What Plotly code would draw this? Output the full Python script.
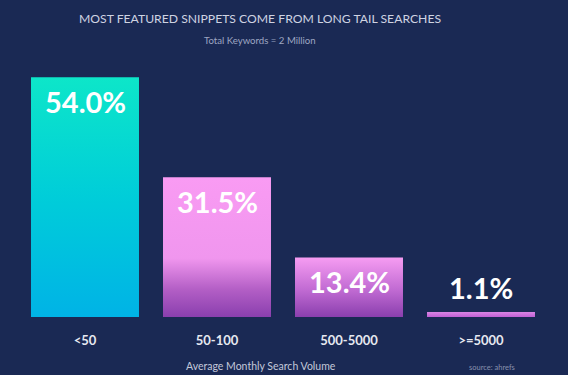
import plotly.graph_objects as go

# ---- data ----
categories = ["<50", "50-100", "500-5000", ">=5000"]
shares = [54.0, 31.5, 13.4, 1.1]
value_labels = ["54.0%", "31.5%", "13.4%", "1.1%"]
title_text = "MOST FEATURED SNIPPETS COME FROM LONG TAIL SEARCHES"
subtitle_text = "Total Keywords = 2 Million"
xaxis_title = "Average Monthly Search Volume"
source_text = "source: ahrefs"

# ---- styling ----
BG = "#1a2954"
FONT = "Lato"
bar_width = 0.818
gradients = [
    [[0, "#00b3e6"], [0.5, "#00cdd9"], [1, "#0de6c9"]],
    [[0, "#8a3fae"], [0.2, "#b45fc6"], [0.42, "#f096ee"], [1, "#f99bf3"]],
    [[0, "#8a3fae"], [0.45, "#c06ad2"], [1, "#f69cf2"]],
    [[0, "#c060d4"], [1, "#d884e4"]],
]

fig = go.Figure()
for i, (cat, v) in enumerate(zip(categories, shares)):
    x0, x1 = i - bar_width / 2, i + bar_width / 2
    fig.add_trace(go.Scatter(
        x=[x0, x1, x1, x0, x0],
        y=[0, 0, v, v, 0],
        mode="lines",
        fill="toself",
        line=dict(width=0),
        fillgradient=dict(type="vertical", colorscale=gradients[i]),
        hoverinfo="skip",
        showlegend=False,
    ))

# value labels
for i, (v, lab) in enumerate(zip(shares, value_labels)):
    inside = v > 5
    fig.add_annotation(
        x=i, y=v, xref="x", yref="y", text=lab, showarrow=False,
        yanchor="middle", yshift=-24 if inside else 25,
        font=dict(family=FONT, size=29, color="#ffffff", weight=700),
    )

plot_h = 257
px_per_unit = 4.44

fig.update_layout(
    width=568, height=375,
    paper_bgcolor=BG, plot_bgcolor=BG,
    margin=dict(l=19, r=21, t=60, b=58),
    xaxis=dict(
        range=[-0.5, len(categories) - 0.5],
        tickvals=list(range(len(categories))), ticktext=categories,
        showgrid=False, zeroline=False, showline=False, ticks="",
        tickfont=dict(family=FONT, size=13, color="#e6e8f0", weight=700),
        ticklabelstandoff=14,
        fixedrange=True,
    ),
    yaxis=dict(
        range=[0, plot_h / px_per_unit],
        visible=False, fixedrange=True,
    ),
    showlegend=False,
)

def ypaper(ypix):
    return (317 - ypix) / plot_h

xc = (260 - 19) / 528
fig.add_annotation(x=xc, y=ypaper(19), xref="paper", yref="paper", text=title_text,
                   showarrow=False, yanchor="middle",
                   font=dict(family=FONT, size=12.2, color="#cfd3e2"))
fig.add_annotation(x=xc, y=ypaper(40), xref="paper", yref="paper", text=subtitle_text,
                   showarrow=False, yanchor="middle",
                   font=dict(family=FONT, size=9.6, color="#9ea6c2"))
fig.add_annotation(x=(261 - 19) / 528, y=ypaper(366), xref="paper", yref="paper", text=xaxis_title,
                   showarrow=False, yanchor="middle",
                   font=dict(family=FONT, size=10.5, color="#c3c8da"))
fig.add_annotation(x=(517 - 19) / 528, y=ypaper(367), xref="paper", yref="paper", text=source_text,
                   showarrow=False, yanchor="middle", xanchor="right",
                   font=dict(family=FONT, size=7.5, color="#8891ad"))

fig.write_html(
    "out.html",
    config={"displayModeBar": False},
    post_script="document.body.style.margin='0';document.body.style.background='%s';" % BG,
)
